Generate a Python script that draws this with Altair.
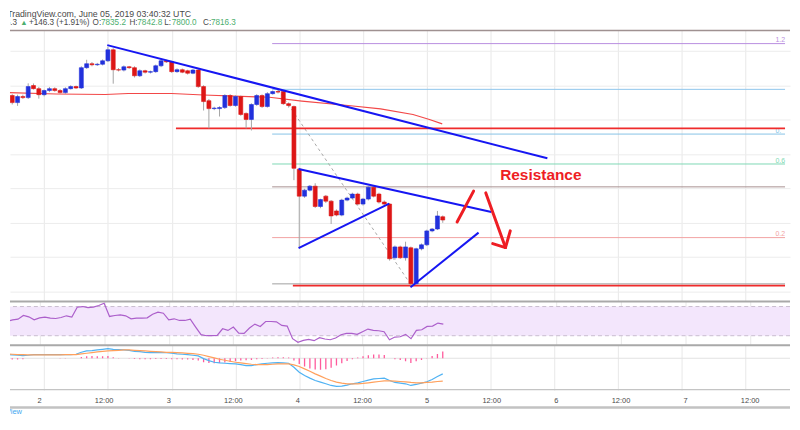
import altair as alt
import pandas as pd

# ---------------- data ----------------
hours = list(range(-7, 76))  # hours since June 2 00:00 UTC (1h candles)

opens = [8557, 8540, 8499, 8534, 8528, 8598, 8580,
         8545, 8569, 8580, 8569, 8557, 8580, 8592,
         8584, 8702, 8725, 8719, 8722, 8742, 8806, 8690, 8688, 8707,
         8702, 8655, 8684, 8676, 8679, 8713, 8742, 8736, 8679, 8690,
         8684, 8670, 8688, 8592, 8510, 8464, 8464, 8470, 8540, 8482,
         8534, 8436, 8401, 8488, 8540, 8476, 8551, 8563, 8563, 8493,
         8476, 8112, 7955, 7990, 8013, 7895, 7955, 7926, 7869, 7845,
         7932, 7944, 7967, 7909, 7938, 8007, 7967, 7921, 7909, 7597,
         7660, 7597, 7655, 7446, 7649, 7672, 7753, 7764, 7835.2]
highs = [8570, 8548, 8545, 8545, 8611, 8610, 8590,
         8575, 8590, 8588, 8578, 8588, 8600, 8598,
         8710, 8748, 8735, 8730, 8750, 8823, 8815, 8700, 8715, 8712,
         8710, 8692, 8690, 8685, 8720, 8755, 8748, 8742, 8698, 8697,
         8690, 8695, 8694, 8600, 8520, 8475, 8478, 8548, 8548, 8542,
         8540, 8442, 8495, 8548, 8547, 8560, 8570, 8575, 8570, 8500,
         8482, 8120, 7998, 8020, 8030, 7940, 7962, 7932, 7878, 7940,
         7952, 7975, 7975, 7945, 8015, 8012, 7975, 7930, 7915, 7668,
         7667, 7690, 7662, 7655, 7680, 7760, 7770, 7869, 7842.8]
lows = [8530, 8488, 8480, 8520, 8520, 8575, 8522,
        8535, 8560, 8562, 8550, 8550, 8575, 8578,
        8578, 8695, 8710, 8712, 8715, 8735, 8609, 8680, 8680, 8695,
        8645, 8648, 8668, 8668, 8672, 8705, 8730, 8672, 8672, 8670,
        8662, 8664, 8585, 8453, 8349, 8455, 8418, 8462, 8475, 8475,
        8422, 8349, 8337, 8480, 8468, 8470, 8545, 8552, 8486, 8470,
        8048, 7655, 7945, 7982, 7886, 7885, 7915, 7793, 7838, 7838,
        7925, 7938, 7900, 7900, 7930, 7948, 7912, 7900, 7580, 7585,
        7590, 7580, 7435, 7440, 7640, 7665, 7745, 7758, 7800.0]
closes = [8540, 8499, 8534, 8528, 8592, 8580, 8545,
          8569, 8580, 8569, 8557, 8580, 8592, 8584,
          8702, 8725, 8719, 8722, 8742, 8806, 8690, 8688, 8707, 8702,
          8655, 8684, 8676, 8679, 8713, 8742, 8736, 8679, 8690, 8676,
          8670, 8688, 8592, 8505, 8464, 8467, 8470, 8540, 8482, 8534,
          8430, 8401, 8488, 8540, 8476, 8551, 8563, 8560, 8493, 8482,
          8117, 7955, 7990, 8013, 7895, 7935, 7926, 7840, 7845, 7932,
          7944, 7967, 7909, 7938, 8007, 7955, 7921, 7909, 7591, 7660,
          7597, 7660, 7446, 7649, 7672, 7753, 7764, 7840, 7816.3]

rsi = [50.9, 49.5, 51.8, 52.7, 57.7, 55.9, 51.8,
       54.5, 55.5, 54.1, 53.6, 55.0, 57.3, 55.5,
       69.1, 70.0, 68.6, 69.1, 71.4, 74.5, 56.4, 57.7, 58.6, 57.3,
       53.2, 54.1, 54.1, 54.5, 59.5, 62.3, 60.9, 51.8, 53.2, 50.9,
       50.9, 52.7, 41.8, 31.4, 30.0, 30.0, 30.5, 39.5, 37.3, 41.8,
       33.6, 33.2, 40.5, 45.9, 42.7, 49.5, 49.5, 49.1, 44.1, 43.2,
       25.9, 20.9, 23.6, 25.0, 23.2, 27.3, 25.5, 24.5, 26.8, 31.4,
       33.2, 33.2, 31.8, 35.5, 39.1, 37.3, 36.8, 35.5, 24.5, 28.2,
       28.6, 31.8, 25.9, 37.3, 38.2, 42.7, 43.2, 47.3, 45.9]

macd = [11, 10, 9, 8, 9, 11, 11,
        11, 11, 11, 11, 11, 11, 12,
        18, 22, 23, 25, 27, 29, 27, 26, 25, 24,
        21, 20, 18, 17, 17, 17, 17, 15, 13, 12,
        11, 9, 7, -1, -7, -12, -14, -15, -16, -17,
        -19, -22, -22, -19, -17, -15, -14, -13, -14, -15,
        -27, -42, -52, -60, -67, -72, -77, -82, -85, -84,
        -81, -77, -74, -70, -66, -62, -61, -60, -67, -73,
        -75, -77, -82, -79, -75, -71, -64, -55, -47]
signal = [13, 12, 11, 11, 10, 10, 10,
          10, 10, 10, 10, 11, 11, 11,
          13, 15, 17, 19, 21, 22, 23, 24, 25, 25,
          24, 23, 22, 21, 20, 19, 18, 18, 17, 16,
          15, 14, 12, 9, 5, 1, -3, -6, -9, -12,
          -14, -16, -18, -19, -19, -19, -18, -17, -17, -17,
          -20, -25, -32, -39, -47, -54, -61, -67, -72, -75,
          -77, -77, -77, -76, -74, -72, -70, -68, -68, -69,
          -70, -71, -73, -74, -74, -73, -72, -70, -69]
hist = [-3, -4, -4, -3, 0, 0, 0,
        0, 0, 0, -1, -1, 0, 0,
        4, 6, 7, 6, 6, 7, 3, 1, 0, -1,
        -2, -3, -3, -3, -2, -2, -2, -3, -3, -4,
        -4, -5, -7, -12, -14, -15, -14, -13, -11, -9,
        -7, -6, -5, -3, -2, -1, 2, 3, 3, 2,
        -7, -17, -25, -31, -34, -35, -33, -29, -22, -15,
        -8, -3, 2, 6, 9, 11, 11, 10, 0, -3,
        -5, -9, -14, -9, -5, 1, 7, 13, 20]

ma_hours = [-7, 2.3, 11.5, 15.8, 24, 30, 42.4, 48.5, 57.2, 63.3, 69.4, 72.5, 74.9]
ma_values = [8557, 8549, 8546, 8552, 8552, 8543, 8530, 8508, 8482, 8462, 8430, 8401, 8375]

trend_x1 = [11.88, 47.87, 47.87, 68.93]
trend_y1 = [8833, 8113, 7653, 7425]
trend_x2 = [94.68, 84.15, 64.92, 81.74]
trend_y2 = [8175, 7863, 7911, 7743]

level_start = [24.8, 46.8]
level_prices = [8349, 7435]

fib_names = ["1.236", "1", "0.786", "0.618", "0.5", "0.236", "0"]
fib_prices = [8842, 8576, 8316, 8142, 8009, 7714, 7445]
fib_tags = ["1.2", "", "0.", "0.6", "", "0.2", ""]
fib_start = 42.9
fib_tag_x = 137.6
fib_diag_x = [44.0, 68.9]
fib_diag_y = [8576, 7445]

arrow_x1 = [77.7, 83.1, 84.4, 86.8]
arrow_y1 = [7805, 7974, 7679, 7656]
arrow_x2 = [80.8, 86.8, 86.8, 87.7]
arrow_y2 = [7984, 7656, 7656, 7753]

note_x, note_y = 85.8, 8050

grid_hours = [0, 12, 24, 36, 48, 60, 72, 84, 96, 108, 120, 132]
tick_labels = ["2", "12:00", "3", "12:00", "4", "12:00", "5", "12:00", "6", "12:00", "7", "12:00"]
price_ticks = [7400, 7600, 7800, 8000, 8200, 8400, 8600, 8800]
rsi_band = [30, 70]

# ---------------- styling ----------------
FONT = "Liberation Sans"
W = 784
PX_PER_H = 5.411
H0 = -5.489
H1 = H0 + W / PX_PER_H
fib_colors = ["#b98fe0", "#8fc6ec", "#86c4e6", "#7fd9b4", "#a89090", "#f2a3a3", "#a0a0a0"]

xs = alt.Scale(domain=[H0, H1], nice=False, zero=False)
xax = alt.Axis(values=grid_hours, labels=False, ticks=False, domain=False, grid=True,
               gridColor="#e8e8e8", title=None)

ys = alt.Scale(domain=[7348, 8921.5], nice=False, zero=False)
yax = alt.Axis(values=price_ticks, labels=False, ticks=False, domain=False, grid=True,
               gridColor="#ececec", title=None, orient="right")

one = pd.DataFrame({"a": [0]})

# ---------------- header ----------------
def htext(txt, px, py, color, align="left", size=8.2):
    return alt.Chart(one).mark_text(text=txt, font=FONT, fontSize=size, color=color,
                                    align=align, baseline="middle", clip=True).encode(
        x=alt.value(px), y=alt.value(py))

GREEN = "#4cae6e"
DARK = "#4a4a4a"
L2 = 14.5
header = alt.layer(
    htext("published on TradingView.com, June 05, 2019 03:40:32 UTC", 182, 4.5, DARK, "right", 8.8),
    htext("7816.3", 7, L2, DARK, "right"),
    htext("\u25b2", 14, L2, GREEN, "center", 7.5),
    htext("+146.3 (+1.91%)", 19, L2, DARK),
    htext("O:", 83, L2, DARK), htext("7835.2", 91.5, L2, GREEN),
    htext("H:", 120, L2, DARK), htext("7842.8", 128, L2, GREEN),
    htext("L:", 155, L2, DARK), htext("7800.0", 162.5, L2, GREEN),
    htext("C:", 194, L2, DARK), htext("7816.3", 202, L2, GREEN),
).properties(width=W, height=20)

# ---------------- price panel ----------------
cdf = pd.DataFrame({"h": hours, "open": opens, "high": highs, "low": lows, "close": closes})
X = alt.X("h:Q", scale=xs, axis=xax)

wicks = alt.Chart(cdf).mark_rule(color="#a4a4a4", strokeWidth=1, clip=True).encode(
    x=X, y=alt.Y("low:Q", scale=ys, axis=yax), y2="high:Q")
up = alt.Chart(cdf).transform_filter("datum.close >= datum.open").mark_bar(
    size=4, color="#2231dc", stroke="#2231dc", strokeWidth=0.6, clip=True).encode(
    x=X, y=alt.Y("open:Q", scale=ys, axis=yax), y2="close:Q")
down = alt.Chart(cdf).transform_filter("datum.close < datum.open").mark_bar(
    size=4, color="#dd1616", stroke="#dd1616", strokeWidth=0.6, clip=True).encode(
    x=X, y=alt.Y("open:Q", scale=ys, axis=yax), y2="close:Q")

ma = alt.Chart(pd.DataFrame({"h": ma_hours, "v": ma_values})).mark_line(
    color="#f24848", strokeWidth=1.2, clip=True).encode(
    x=X, y=alt.Y("v:Q", scale=ys, axis=yax))

fdf = pd.DataFrame({"name": fib_names, "p": fib_prices, "tag": fib_tags})
fcol = alt.Color("name:N", scale=alt.Scale(domain=fib_names, range=fib_colors), legend=None)
fib = alt.Chart(fdf).mark_rule(strokeWidth=1, clip=True).encode(
    x=alt.datum(fib_start, scale=xs, axis=xax), x2=alt.datum(H1),
    y=alt.Y("p:Q", scale=ys, axis=yax), color=fcol)
fibtxt = alt.Chart(fdf).mark_text(font=FONT, fontSize=7, align="left", baseline="bottom",
                                  dy=-0.5, clip=True).encode(
    x=alt.datum(fib_tag_x, scale=xs, axis=xax), y=alt.Y("p:Q", scale=ys, axis=yax),
    text="tag:N", color=fcol)
fibdiag = alt.Chart(pd.DataFrame({"h": fib_diag_x, "v": fib_diag_y})).mark_line(
    color="#a8a8a8", strokeWidth=1, strokeDash=[3, 3], clip=True).encode(
    x=X, y=alt.Y("v:Q", scale=ys, axis=yax))

levels = alt.Chart(pd.DataFrame({"h": level_start, "p": level_prices})).mark_rule(
    color="#ef2b2b", strokeWidth=1.8, clip=True).encode(
    x=X, x2=alt.datum(H1), y=alt.Y("p:Q", scale=ys, axis=yax))

tdf = pd.DataFrame({"h": trend_x1, "p": trend_y1, "h2": trend_x2, "p2": trend_y2})
trends = alt.Chart(tdf).mark_rule(color="#1616f2", strokeWidth=2, clip=True).encode(
    x=X, x2="h2:Q", y=alt.Y("p:Q", scale=ys, axis=yax), y2="p2:Q")

adf = pd.DataFrame({"h": arrow_x1, "p": arrow_y1, "h2": arrow_x2, "p2": arrow_y2})
arrows = alt.Chart(adf).mark_rule(color="#ee1d23", strokeWidth=3, strokeCap="round",
                                  clip=True).encode(
    x=X, x2="h2:Q", y=alt.Y("p:Q", scale=ys, axis=yax), y2="p2:Q")
note = alt.Chart(one).mark_text(text="Resistance", font=FONT, fontSize=15.5,
                                fontWeight="bold", color="#ee1d23", align="left",
                                baseline="alphabetic", clip=True).encode(
    x=alt.datum(note_x, scale=xs, axis=xax), y=alt.datum(note_y, scale=ys, axis=yax))

top_border = alt.Chart(one).mark_rule(color="#9f9191", strokeWidth=1.5).encode(y=alt.value(0.5))

price = alt.layer(fib, fibtxt, fibdiag, levels, ma, wicks, up, down, trends, arrows, note,
                  top_border).resolve_scale(color="independent").properties(width=W, height=272)

# ---------------- RSI panel ----------------
rs = alt.Scale(domain=[18.2, 78.2], nice=False, zero=False)
rax = alt.Axis(labels=False, ticks=False, domain=False, grid=False, title=None, orient="right")
rdf = pd.DataFrame({"h": hours, "rsi": rsi})
band = alt.Chart(pd.DataFrame({"lo": [rsi_band[0]], "hi": [rsi_band[1]]})).mark_rect(
    color="#f3e6fc").encode(x=alt.datum(H0, scale=xs, axis=xax), x2=alt.datum(H1),
                            y=alt.Y("lo:Q", scale=rs, axis=rax), y2="hi:Q")
bandlines = alt.Chart(pd.DataFrame({"v": rsi_band})).mark_rule(
    color="#c9bccf", strokeWidth=1, strokeDash=[4, 3]).encode(y=alt.Y("v:Q", scale=rs, axis=rax))
rsiline = alt.Chart(rdf).mark_line(color="#ac5fcb", strokeWidth=1.2, clip=True).encode(
    x=X, y=alt.Y("rsi:Q", scale=rs, axis=rax))
rsi_border = alt.Chart(one).mark_rule(color="#a9a9a9", strokeWidth=2).encode(y=alt.value(1))
rsi_panel = alt.layer(band, bandlines, rsiline, rsi_border).properties(width=W, height=44)

# ---------------- MACD panel ----------------
msc = alt.Scale(domain=[-96, 39], nice=False, zero=False)
max_ = alt.Axis(labels=False, ticks=False, domain=False, grid=False, title=None, orient="right")
mdf = pd.DataFrame({"h": hours, "macd": macd, "signal": signal, "hist": hist})
zero = alt.Chart(pd.DataFrame({"v": [0]})).mark_rule(color="#e2e2e2", strokeWidth=1).encode(
    y=alt.Y("v:Q", scale=msc, axis=max_))
bars = alt.Chart(mdf).mark_bar(size=1.3, color="#ff5a9c", clip=True).encode(
    x=X, y=alt.Y("hist:Q", scale=msc, axis=max_), y2=alt.datum(0))
mline = alt.Chart(mdf).mark_line(color="#4fb2f3", strokeWidth=1.2, clip=True).encode(
    x=X, y=alt.Y("macd:Q", scale=msc, axis=max_))
sline = alt.Chart(mdf).mark_line(color="#ffa05c", strokeWidth=1.2, clip=True).encode(
    x=X, y=alt.Y("signal:Q", scale=msc, axis=max_))
m_top = alt.Chart(one).mark_rule(color="#a9a9a9", strokeWidth=2).encode(y=alt.value(0))
m_bot = alt.Chart(one).mark_rule(color="#c4c4c4", strokeWidth=1.2).encode(y=alt.value(44.5))
macd_panel = alt.layer(zero, bars, mline, sline, m_top, m_bot).properties(width=W, height=45)

# ---------------- time labels + footer ----------------
ldf = pd.DataFrame({"h": grid_hours, "lab": tick_labels})
time_labels = alt.Chart(ldf).mark_text(font=FONT, fontSize=7.5, color="#4a4a4a",
                                       baseline="middle", align="center").encode(
    x=alt.X("h:Q", scale=xs, axis=None), text="lab:N", y=alt.value(10))
footer = alt.layer(
    time_labels,
    alt.Chart(one).mark_rule(color="#c2c2c2", strokeWidth=2.5).encode(y=alt.value(16.5)),
    alt.Chart(one).mark_text(text="TradingView", font=FONT, fontSize=7.5, color="#3ea6f0",
                             align="right", baseline="middle", clip=True).encode(
        x=alt.value(12), y=alt.value(21.5)),
).properties(width=W, height=25)

chart = alt.vconcat(header, price, rsi_panel, macd_panel, footer, spacing=0).resolve_scale(
    y="independent").properties(padding=0).configure_view(strokeWidth=0).configure_axis(
    minExtent=0)

chart.save("out.html", embed_options={"renderer": "svg", "actions": False})
